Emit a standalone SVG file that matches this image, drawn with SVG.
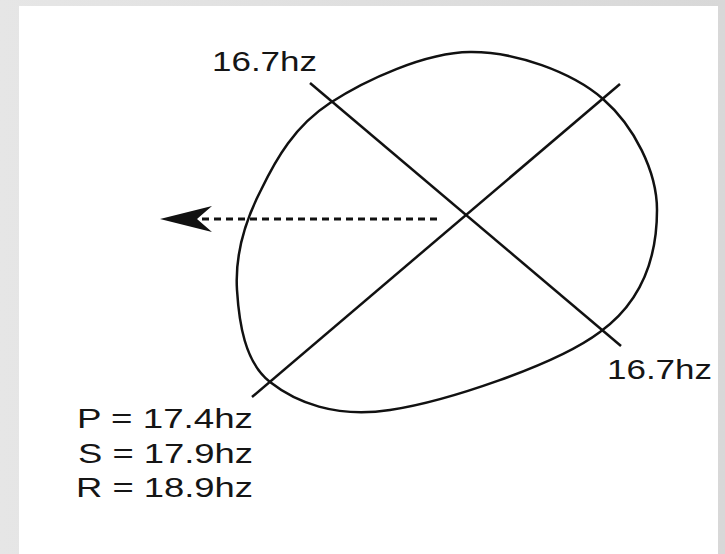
<svg xmlns="http://www.w3.org/2000/svg" width="725" height="554" viewBox="0 0 725 554">
<defs>
<linearGradient id="bg" x1="0" y1="0" x2="1" y2="0">
<stop offset="0" stop-color="#e6e6e6"/>
<stop offset="1" stop-color="#d8d8d8"/>
</linearGradient>
</defs>
<style>
.ln{stroke:#111;stroke-width:2.5;fill:none;stroke-linecap:butt}
.dash{stroke:#111;stroke-width:3;fill:none;stroke-dasharray:7 5}
.lbl{font-family:"Liberation Sans",Arial,sans-serif;font-size:28px;fill:#151515}
</style>
<rect x="0" y="0" width="725" height="554" fill="url(#bg)"/>
<rect x="19" y="6" width="699" height="548" fill="#ffffff"/>
<g id="egg">
<path class="ln" d="M470,52 C515,51.5 572,72 603,99 C634,126 657,171.3 657,210 C657,250 646,298.7 600,332 C555.7,365.3 445,401.7 390,410 C335,418.3 295.5,402 270,382 C244.5,362 239,322 237,290 C235,258 244,223 261,190 C276,158.8 294.7,126 330,103 C365.3,80 425,52.5 470,52 Z"/>
</g>
<g id="connectors">
<line id="axis1" class="ln" x1="310" y1="83" x2="621" y2="346"/>
<line id="axis2" class="ln" x1="252" y1="397" x2="620" y2="84"/>
<line id="direction" class="dash" x1="437" y1="219" x2="197" y2="219"/>
<path d="M160,219 L212,206 L197,219 L212,232 Z" fill="#111"/>
</g>
<g id="label-top">
<text class="lbl" x="212" y="71" textLength="105" lengthAdjust="spacingAndGlyphs">16.7hz</text>
</g>
<g id="label-right">
<text class="lbl" x="607" y="379" textLength="105" lengthAdjust="spacingAndGlyphs">16.7hz</text>
</g>
<g id="label-values">
<text class="lbl" x="77" y="428" textLength="176" lengthAdjust="spacingAndGlyphs">P = 17.4hz</text>
<text class="lbl" x="78" y="463" textLength="175" lengthAdjust="spacingAndGlyphs">S = 17.9hz</text>
<text class="lbl" x="76" y="497" textLength="177" lengthAdjust="spacingAndGlyphs">R = 18.9hz</text>
</g>
</svg>
